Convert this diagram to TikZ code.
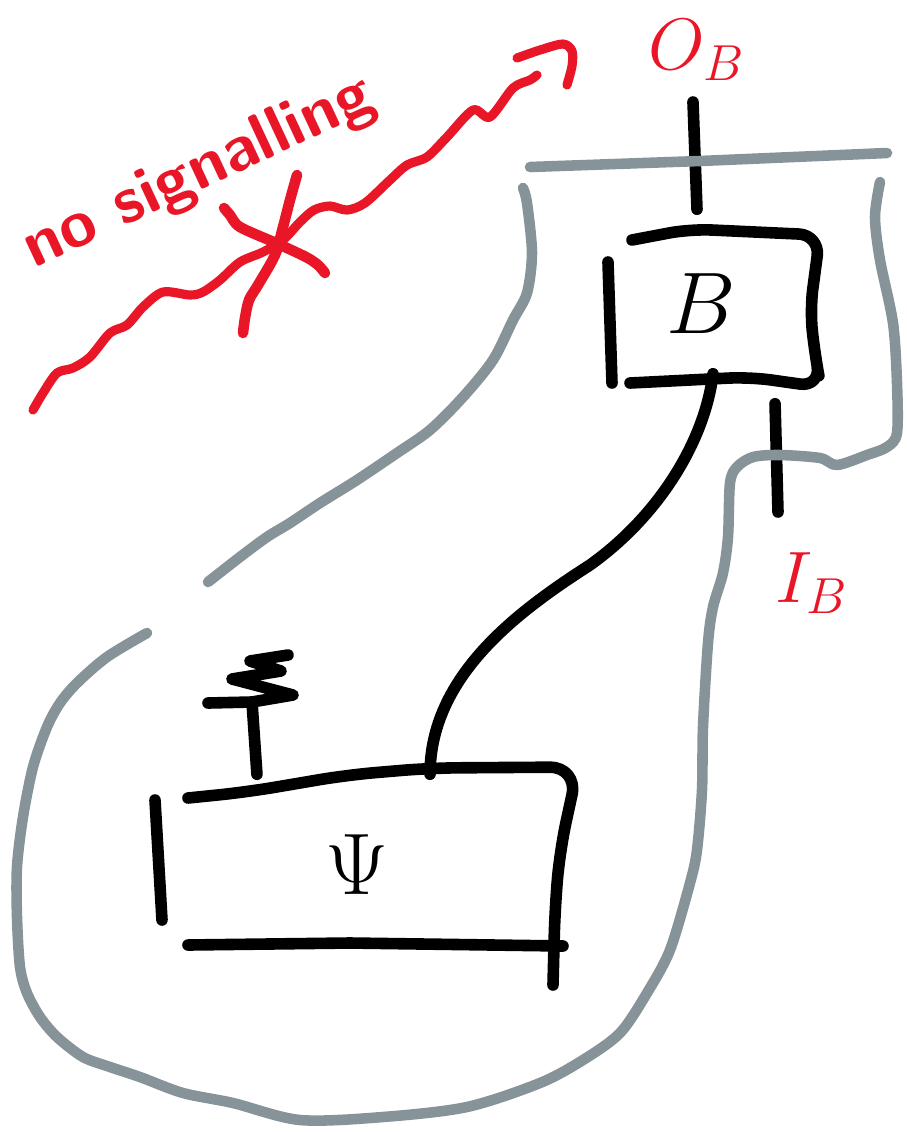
\documentclass[tikz,border=0pt]{standalone}
\usepackage{fontspec}
\usetikzlibrary{calc}
\definecolor{penred}{RGB}{232,22,38}
\definecolor{pengray}{RGB}{134,147,152}
\tikzset{
 wire/.style={black, line width=3.3pt, line cap=round, line join=round},
 region/.style={pengray, line width=3pt, line cap=round, line join=round},
 signal/.style={penred, line width=2.6pt, line cap=round, line join=round},
 box/.style={inner sep=0pt},
 sys/.style={penred, inner sep=0pt, font=\fontsize{21}{25}\selectfont},
}

\begin{document}
\begin{tikzpicture}[x=0.01cm, y=-0.01cm]
\useasboundingbox (0,0) rectangle (907,1132);

% the two boxes
\node[box, minimum width=2.1cm, minimum height=1.5cm, font=\fontsize{26}{30}\selectfont] (boxB) at (701,304) {$B$};
\node[box, minimum width=4.2cm, minimum height=1.8cm, font=\fontsize{29}{33}\selectfont] (boxPsi) at (357,865) {$\Psi$};
\draw[wire, rounded corners=6pt] (632,240) -- (690,229) -- (820,235) -- (810,310) -- (815,355) -- (821,387) -- (750,377) -- (630,383);
\draw[wire] (608,262) -- (612,383);
\draw[wire, rounded corners=8pt] (188,798) -- (247,792) -- (347,775) -- (430,768) -- (578,767) -- (560,850) -- (555,907) -- (553,985);
\draw[wire] (188,945) -- (350,943) -- (563,946);
\draw[wire] (155,800) -- (162,920);

% wires
\coordinate (outB) at (693,102);
\coordinate (inB) at (778,512);
\coordinate (disc) at (252,702);
\draw[wire] ([xshift=-0.4mm,yshift=1.9mm]boxB.north) -- (outB);
\draw[wire] ([xshift=7.4mm,yshift=-2.4mm]boxB.south) -- (inB);
\draw[wire] ([xshift=1.2mm,yshift=0.6mm]boxB.south) .. controls (705,440) and (660,515) .. (590,565) .. controls (520,610) and (430,675) .. ([xshift=7.3mm]boxPsi.north);
\draw[wire] ([xshift=-1cm]boxPsi.north) -- (disc);
\draw[wire] (208,703) -- (disc) -- (293,695) -- (232,679) -- (281,671) -- (250,661) -- (288,655);

\node[sys] (lblOB) at (697,50) {$O_B$};
\node[sys] (lblIB) at (812,583) {$I_B$};

% lab boundaries
\draw[region] (530,167) -- (700,161) -- (887,153);
\draw[region] plot[smooth, tension=0.5] coordinates {(880,182) (875,217) (880,260) (893,323) (897,383) (897,433) (887,447) (867,455) (837,465) (820,458) (780,455) (753,457) (737,467) (730,483) (728,537) (723,573) (713,607) (708,643) (703,727) (702,790) (697,850) (690,883) (670,950) (647,993) (620,1033) (583,1060) (540,1083) (467,1107) (383,1117) (300,1120) (233,1103) (183,1093) (140,1077) (110,1067) (83,1057) (57,1037) (40,1017) (27,993) (20,967) (17,917) (17,867) (23,817) (33,767) (47,727) (60,703) (77,683) (107,657) (147,633)};
\draw[region] plot[smooth, tension=0.5] coordinates {(523,188) (527,203) (532,253) (527,293) (513,320) (493,360) (463,397) (430,430) (397,453) (357,480) (320,503) (290,523) (267,537) (240,557) (208,582)};

% crossed-out signal
\draw[signal] plot[smooth, tension=0.5] coordinates {(33,410) (43,393) (57,373) (73,368) (90,357) (110,333) (127,325) (143,307) (163,292) (190,295) (203,292) (220,280) (240,262) (263,252) (283,240) (300,222) (314,210) (330,206) (347,210) (365,203) (390,180) (407,165) (427,157) (447,137) (473,110) (490,117) (513,88) (530,80) (537,75)};
\draw[signal] plot[smooth, tension=0.5] coordinates {(517,58) (540,50) (563,44) (572,51) (572,66) (567,85)};
\draw[signal, line width=3pt] plot[smooth, tension=0.5] coordinates {(297,175) (290,200) (283,227) (275,255) (258,285) (249,300) (245,318) (243,333)};
\draw[signal, line width=3pt] plot[smooth, tension=0.5] coordinates {(224,208) (230,215) (240,227) (276,243) (306,257) (318,265) (325,273)};
\node[sys, rotate=25, anchor=base, font=\sffamily\bfseries\fontsize{19}{23}\selectfont\addfontfeatures{LetterSpace=10}] (lblSig) at (206,188) {no signalling};

\end{tikzpicture}
\end{document}
